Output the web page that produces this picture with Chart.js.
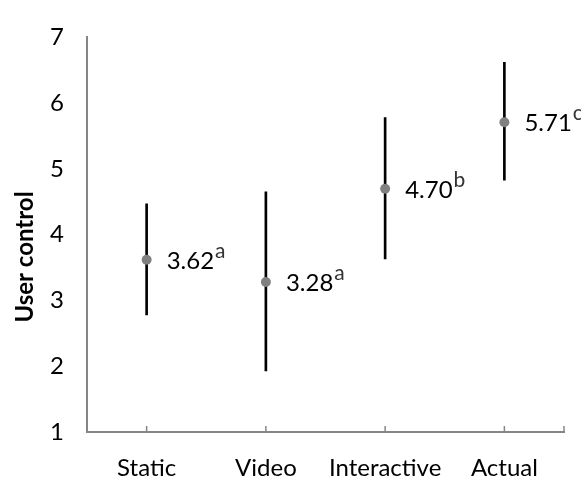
<!DOCTYPE html>
<html>
<head>
<meta charset="utf-8">
<script src="https://cdn.jsdelivr.net/npm/chart.js@4.4.1/dist/chart.umd.min.js"></script>
<style>
  html, body { margin: 0; padding: 0; background: #fff; }
  #wrap { width: 581px; height: 479px; }
</style>
</head>
<body>
<div id="wrap"><canvas id="controlChart" width="581" height="479"></canvas></div>
<script>
    const categories = ['Static', 'Video', 'Interactive', 'Actual'];
    const means = [3.62, 3.28, 4.70, 5.71];
    const lowerBounds = [2.78, 1.93, 3.63, 4.83];
    const upperBounds = [4.47, 4.65, 5.78, 6.62];
    const groupLetters = ['a', 'a', 'b', 'c'];
    const yTickValues = [1, 2, 3, 4, 5, 6, 7];

    const FONT = 'Lato, "Open Sans", sans-serif';
    const axisGray = '#868686';

    // value labels with superscript letters next to each point
    const valueLabels = {
        id: 'valueLabels',
        afterDatasetsDraw(chart) {
            const ctx = chart.ctx;
            const meta = chart.getDatasetMeta(1);
            ctx.save();
            ctx.textBaseline = 'alphabetic';
            ctx.textAlign = 'left';
            meta.data.forEach((pt, i) => {
                const x = pt.x + 20;
                const base = pt.y + 9;
                const txt = means[i].toFixed(2);
                ctx.font = '24px ' + FONT;
                ctx.fillStyle = '#000';
                ctx.fillText(txt, x, base);
                const w = ctx.measureText(txt).width;
                ctx.font = '21px ' + FONT;
                ctx.fillStyle = '#333';
                ctx.fillText(groupLetters[i], x + w + 1, base - 11);
            });
            ctx.restore();
        }
    };

    // inward tick marks on the category axis and the rotated y title
    const axisExtras = {
        id: 'axisExtras',
        afterDraw(chart) {
            const ctx = chart.ctx;
            const xs = chart.scales.x;
            const area = chart.chartArea;
            ctx.save();
            ctx.strokeStyle = axisGray;
            ctx.lineWidth = 1.5;
            const positions = categories.map((c, i) => xs.getPixelForValue(i));
            positions.push(area.right);
            positions.forEach(px => {
                ctx.beginPath();
                ctx.moveTo(px, area.bottom);
                ctx.lineTo(px, area.bottom - 6);
                ctx.stroke();
            });
            ctx.translate(25, 257);
            ctx.rotate(-Math.PI / 2);
            ctx.font = 'bold 24px ' + FONT;
            ctx.fillStyle = '#000';
            ctx.textAlign = 'center';
            ctx.textBaseline = 'middle';
            ctx.fillText('User control', 0, 0);
            ctx.restore();
        }
    };

    const ctx = document.getElementById('controlChart').getContext('2d');
    new Chart(ctx, {
        data: {
            labels: categories,
            datasets: [{
                type: 'bar',
                label: 'Range',
                data: categories.map((c, i) => [lowerBounds[i], upperBounds[i]]),
                backgroundColor: '#000',
                borderWidth: 0,
                barThickness: 2,
                order: 2
            }, {
                type: 'line',
                label: 'Mean',
                data: means,
                showLine: false,
                pointRadius: 5,
                pointHoverRadius: 5,
                pointBackgroundColor: '#808080',
                pointBorderColor: '#808080',
                pointBorderWidth: 0,
                order: 1
            }]
        },
        options: {
            responsive: false,
            animation: false,
            layout: {
                padding: { top: 21, right: 17, left: 0, bottom: 0 }
            },
            scales: {
                x: {
                    type: 'category',
                    offset: true,
                    grid: { display: false, drawTicks: false },
                    border: { color: axisGray, width: 2 },
                    ticks: {
                        color: '#000',
                        font: { family: FONT, size: 24 },
                        padding: 22
                    },
                    afterFit(scale) { scale.height = 47; }
                },
                y: {
                    min: 1,
                    max: 7,
                    afterBuildTicks(scale) {
                        scale.ticks = yTickValues.map(v => ({ value: v }));
                    },
                    grid: { display: false, drawTicks: false },
                    border: { color: axisGray, width: 2 },
                    ticks: {
                        color: '#000',
                        font: { family: FONT, size: 24 },
                        padding: 23
                    },
                    afterFit(scale) { scale.width = 87; }
                }
            },
            plugins: {
                legend: { display: false },
                tooltip: { enabled: false }
            }
        },
        plugins: [valueLabels, axisExtras]
    });
</script>
</body>
</html>
